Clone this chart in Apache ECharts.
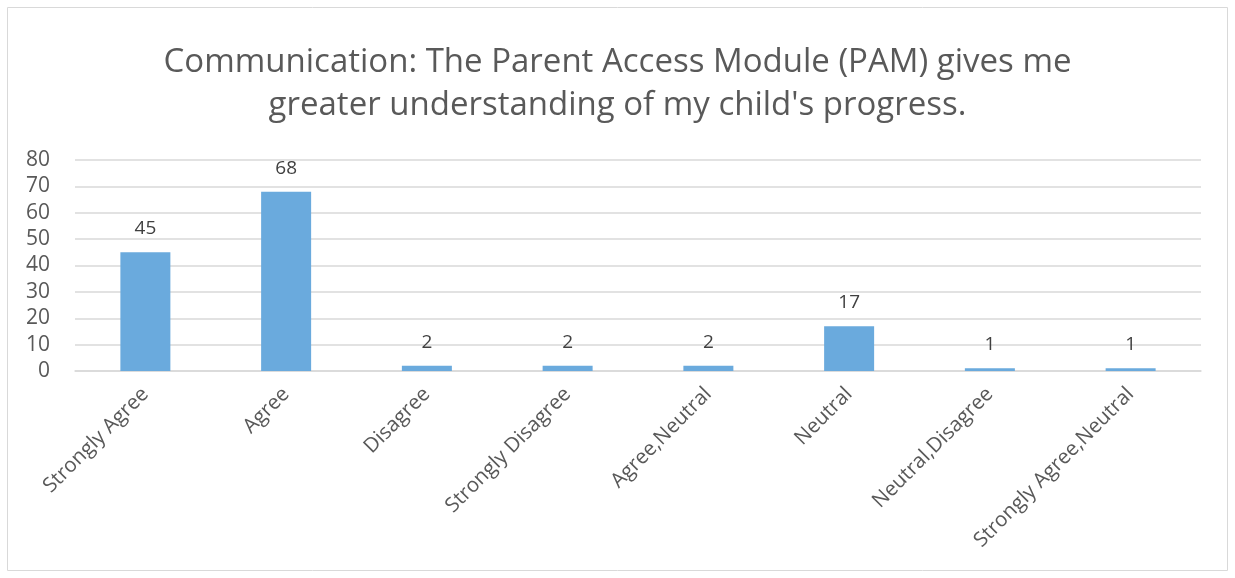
<!DOCTYPE html>
<html>
<head>
<meta charset="utf-8">
<script src="https://cdn.jsdelivr.net/npm/echarts@6/dist/echarts.min.js"></script>
<style>
  html, body { margin: 0; padding: 0; background: #fff; }
  #chart { width: 1235px; height: 578px; }
</style>
</head>
<body>
<div id="chart"></div>
<script>
// 数据
const categories = ['Strongly Agree', 'Agree', 'Disagree', 'Strongly Disagree', 'Agree,Neutral', 'Neutral', 'Neutral,Disagree', 'Strongly Agree,Neutral'];
const counts = [45, 68, 2, 2, 2, 17, 1, 1];
const titleText = "Communication: The Parent Access Module (PAM) gives me\ngreater understanding of my child's progress.";

const chart = echarts.init(document.getElementById('chart'));

const option = {
  animation: false,
  textStyle: { fontFamily: 'Open Sans' },
  graphic: [{
    type: 'rect',
    shape: { x: 7.5, y: 7.5, width: 1220, height: 563 },
    style: { fill: 'none', stroke: '#d9d9d9', lineWidth: 1 },
    silent: true
  }],
  title: {
    text: titleText,
    left: 'center',
    top: 36,
    textStyle: { fontSize: 33, fontWeight: 'normal', color: '#595959', lineHeight: 43, fontFamily: 'Open Sans' }
  },
  grid: { left: 75, right: 34, top: 160, bottom: 207 },
  xAxis: {
    type: 'category',
    data: categories,
    axisLine: { lineStyle: { color: '#d9d9d9', width: 1.5 } },
    axisTick: { show: false },
    axisLabel: { rotate: 45, fontSize: 20.5, color: '#595959', margin: 20, interval: 0 }
  },
  yAxis: {
    type: 'value',
    min: 0,
    max: 80,
    interval: 10,
    axisLine: { show: false },
    axisTick: { show: false },
    axisLabel: { fontSize: 21, color: '#595959', margin: 25 },
    splitLine: { lineStyle: { color: '#d9d9d9', width: 1.5 } }
  },
  series: [{
    type: 'bar',
    data: counts,
    barWidth: 50,
    itemStyle: { color: '#6aaadd' },
    label: { show: true, position: 'top', distance: 14, fontSize: 19, color: '#404040' }
  }]
};

chart.setOption(option);
</script>
</body>
</html>
